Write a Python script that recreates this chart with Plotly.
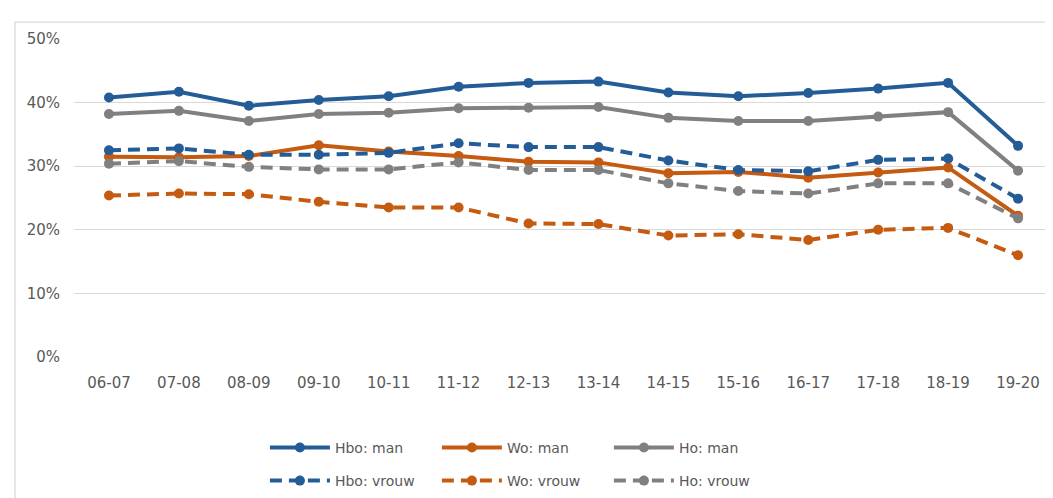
import plotly.graph_objects as go

years = ['06-07', '07-08', '08-09', '09-10', '10-11', '11-12', '12-13',
         '13-14', '14-15', '15-16', '16-17', '17-18', '18-19', '19-20']

hbo_man = [40.8, 41.7, 39.5, 40.4, 41.0, 42.5, 43.1, 43.3, 41.6, 41.0, 41.5, 42.2, 43.1, 33.2]
wo_man = [31.5, 31.4, 31.6, 33.3, 32.3, 31.6, 30.7, 30.6, 28.9, 29.1, 28.2, 29.0, 29.8, 22.2]
ho_man = [38.2, 38.7, 37.1, 38.2, 38.4, 39.1, 39.2, 39.3, 37.6, 37.1, 37.1, 37.8, 38.5, 29.3]
hbo_vrouw = [32.5, 32.8, 31.8, 31.8, 32.1, 33.6, 33.0, 33.0, 30.9, 29.4, 29.2, 31.0, 31.2, 24.9]
wo_vrouw = [25.4, 25.7, 25.6, 24.4, 23.5, 23.5, 21.0, 20.9, 19.1, 19.3, 18.4, 20.0, 20.3, 16.0]
ho_vrouw = [30.4, 30.8, 29.9, 29.5, 29.5, 30.6, 29.4, 29.4, 27.3, 26.1, 25.7, 27.3, 27.3, 21.8]

BLUE = '#245C97'
ORANGE = '#C55A11'
GREY = '#808080'
DASH = '12px,7px'

series = [
    ('Hbo: man', hbo_man, BLUE, 'solid', 'legend'),
    ('Wo: man', wo_man, ORANGE, 'solid', 'legend'),
    ('Ho: man', ho_man, GREY, 'solid', 'legend'),
    ('Hbo: vrouw', hbo_vrouw, BLUE, DASH, 'legend2'),
    ('Wo: vrouw', wo_vrouw, ORANGE, DASH, 'legend2'),
    ('Ho: vrouw', ho_vrouw, GREY, DASH, 'legend2'),
]

fig = go.Figure()
for name, values, color, dash, leg in series:
    fig.add_trace(go.Scatter(
        x=years, y=[v / 100 for v in values], name=name, mode='lines+markers',
        line=dict(color=color, width=4, dash=dash),
        marker=dict(color=color, size=10),
        legend=leg,
    ))

font = dict(family='DejaVu Sans', size=15, color='#595959')
legend_common = dict(
    orientation='h', xanchor='left', yanchor='middle', x=0.195,
    entrywidth=97, entrywidthmode='pixels', itemwidth=60,
    font=dict(family='DejaVu Sans', size=14, color='#595959'),
    bgcolor='rgba(0,0,0,0)', traceorder='normal',
)

# the page body adds an 8px offset, so the figure is 8px smaller each way
fig.update_layout(
    width=1045, height=490,
    margin=dict(l=66, r=0, t=31, b=141),
    paper_bgcolor='white', plot_bgcolor='white',
    font=font,
    showlegend=True,
    legend=dict(legend_common, y=-0.286),
    legend2=dict(legend_common, y=-0.39),
    xaxis=dict(type='category', showgrid=False, showline=False, ticks='',
               tickfont=font, range=[-0.5, 13.5], ticklabelstandoff=15),
    yaxis=dict(range=[0, 0.5], dtick=0.1, tickformat='.0%', showgrid=True,
               gridcolor='#D9D9D9', gridwidth=1.3, zeroline=False, showline=False,
               ticks='', tickfont=font, ticklabelstandoff=13),
    shapes=[dict(type='rect', xref='paper', yref='paper',
                 x0=-0.0603, x1=1.02, y0=-0.5, y1=1.0531,
                 line=dict(color='#D9D9D9', width=1.3), layer='below')],
)

fig.write_html('out.html')
